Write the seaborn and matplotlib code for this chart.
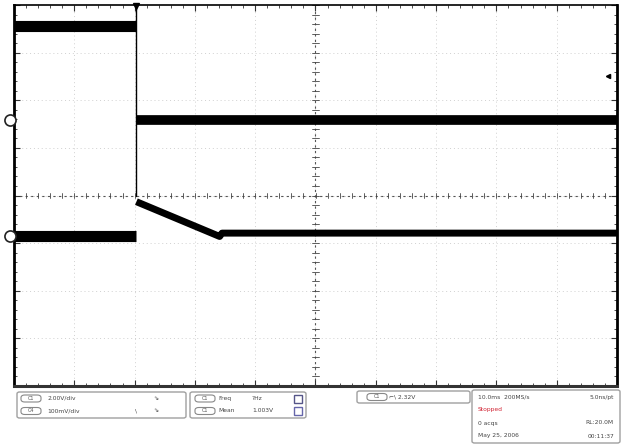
import matplotlib
matplotlib.use("Agg")
import matplotlib.pyplot as plt
from matplotlib.patches import FancyBboxPatch
import numpy as np
import pandas as pd
import seaborn as sns

# ---- data (divisions: x -5..5, y -4..4) ----
ch1_t = [-5.0, -2.97, -2.97, 5.0]
ch1_v = [3.55, 3.55, 1.58, 1.58]
ch4_t = [-5.0, -2.97, -2.97, -1.59, -1.55, 5.0]
ch4_v = [-0.84, -0.84, -0.13, -0.86, -0.79, -0.79]
edge_t = [-2.97, -2.97]
edge_v = [0.0, 4.0]
ch_markers = [1.58, -0.84]
trig_level = 2.50

ch_labels = ["C1", "C4"]
scale_labels = ["2.00V/div", "100mV/div"]
meas_names = ["Freq", "Mean"]
meas_values = ["?Hz", "1.003V"]
trig_text = "2.32V"
status_lines = [("10.0ms  200MS/s", "5.0ns/pt"), ("Stopped", ""), ("0 acqs", "RL:20.0M"),
                ("May 25, 2006", "00:11:37")]

sns.set_style("white")
fig = plt.figure(figsize=(6.25, 4.45), dpi=100)
W, H = 625, 445
ax = fig.add_axes([14 / W, (H - 386) / H, 603 / W, 381 / H])
ax.set_xlim(-5, 5)
ax.set_ylim(-4, 4)

# grid
for gx in np.arange(-4, 5):
    ax.axvline(gx, color="#d0d0d0", lw=0.7, ls=(0, (1, 3)), zorder=0)
for gy in np.arange(-3, 4):
    ax.axhline(gy, color="#d0d0d0", lw=0.7, ls=(0, (1, 3)), zorder=0)
ax.axvline(0, color="#555555", lw=0.8, ls=(0, (2, 3)), zorder=0)
ax.axhline(0, color="#555555", lw=0.8, ls=(0, (2, 3)), zorder=0)
for m in np.arange(-5, 5.01, 0.2):
    ax.plot([m, m], [-0.05, 0.05], color="#444444", lw=0.6, zorder=0)
for m in np.arange(-4, 4.01, 0.2):
    ax.plot([-0.05, 0.05], [m, m], color="#444444", lw=0.6, zorder=0)

ax.set_xticks(np.arange(-5, 5.01, 1))
ax.set_yticks(np.arange(-4, 4.01, 1))
ax.set_xticks(np.arange(-5, 5.01, 0.2), minor=True)
ax.set_yticks(np.arange(-4, 4.01, 0.2), minor=True)
ax.tick_params(which="both", direction="in", top=True, right=True, bottom=True, left=True,
               labelbottom=False, labelleft=False, color="#333333")
ax.tick_params(which="major", length=4, width=0.8)
ax.tick_params(which="minor", length=2.5, width=0.6)
for s in ax.spines.values():
    s.set_color("black")
ax.spines["left"].set_linewidth(2.0)
ax.spines["right"].set_linewidth(2.0)
ax.spines["top"].set_linewidth(1.2)
ax.spines["bottom"].set_linewidth(2.2)
ax.spines["bottom"].set_color("#333333")

# traces
df1 = pd.DataFrame({"t": ch1_t, "v": ch1_v})
df4 = pd.DataFrame({"t": ch4_t, "v": ch4_v})
dfe = pd.DataFrame({"t": edge_t, "v": edge_v})
sns.lineplot(data=dfe, x="t", y="v", ax=ax, sort=False, estimator=None, color="black", lw=1.0)
sns.lineplot(data=df1.iloc[:2], x="t", y="v", ax=ax, sort=False, estimator=None, color="black",
             lw=8.0, solid_capstyle="butt")
sns.lineplot(data=df1.iloc[2:], x="t", y="v", ax=ax, sort=False, estimator=None, color="black",
             lw=7.0, solid_capstyle="butt")
sns.lineplot(data=df4.iloc[:2], x="t", y="v", ax=ax, sort=False, estimator=None, color="black",
             lw=8.0, solid_capstyle="butt")
sns.lineplot(data=df4.iloc[2:], x="t", y="v", ax=ax, sort=False, estimator=None, color="black",
             lw=5.0, solid_capstyle="butt")
ax.set_xlabel("")
ax.set_ylabel("")

# channel markers and trigger markers
for v in ch_markers:
    ax.plot([-5.06], [v], marker="o", ms=8, mfc="white", mec="#222222", mew=1.2, clip_on=False, zorder=5)
ax.plot([-2.97], [3.97], marker="v", ms=4, color="black", clip_on=False, zorder=5)
ax.plot([4.85], [trig_level], marker="<", ms=3, color="black", zorder=5)
ax.set_xlabel("")
ax.set_ylabel("")

# ---- bottom status panel ----
def px(x, y):
    return x / W, 1 - y / H

def box(x0, y0, x1, y1, r=0.004):
    (a, b), (c, d) = px(x0, y1), px(x1, y0)
    fig.patches.append(FancyBboxPatch((a, b), c - a, d - b, boxstyle=f"round,pad=0,rounding_size={r}",
                                      transform=fig.transFigure, fc="white", ec="#a0a0a0", lw=1.0))

def oval(xc, yc, txt):
    a, b = px(xc - 10, yc + 3.5)
    fig.patches.append(FancyBboxPatch((a, b), 20 / W, 7 / H, boxstyle="round,pad=0,rounding_size=0.006",
                                      transform=fig.transFigure, fc="white", ec="#888888", lw=0.8))
    fig.text(*px(xc, yc), txt, fontsize=3.5, ha="center", va="center", color="#555555")

fs = 4.3
tc = "#444444"
box(17, 392, 186, 418)
box(190, 392, 306, 418)
for i, y in enumerate([398.5, 411]):
    oval(31, y, ch_labels[i])
    fig.text(*px(47, y), scale_labels[i], fontsize=fs, ha="left", va="center", color=tc)
    fig.text(*px(156, y), "⇘", fontsize=fs, ha="center", va="center", color=tc)
    oval(205, y, ch_labels[0])
    fig.text(*px(218, y), meas_names[i], fontsize=fs, ha="left", va="center", color=tc)
    fig.text(*px(252, y), meas_values[i], fontsize=fs, ha="left", va="center", color=tc)
fig.text(*px(136, 411), "\\", fontsize=fs, ha="center", va="center", color=tc)
for y, c in [(398.5, "#555588"), (411, "#6666aa")]:
    a, b = px(294, y + 4)
    fig.patches.append(FancyBboxPatch((a, b), 8 / W, 8 / H, boxstyle="square,pad=0",
                                      transform=fig.transFigure, fc="white", ec=c, lw=1.0))

box(357, 391, 470, 403)
oval(377, 397, ch_labels[0])
fig.text(*px(389, 397), "⌐\\ " + trig_text, fontsize=fs, ha="left", va="center", color=tc)

box(472, 390, 620, 443)
for (l, r), y in zip(status_lines, [397, 410, 423, 436]):
    col = "#d02030" if l == "Stopped" else tc
    fig.text(*px(478, y), l, fontsize=fs, ha="left", va="center", color=col)
    if r:
        fig.text(*px(614, y), r, fontsize=fs, ha="right", va="center", color=tc)

fig.savefig("out.png", dpi=100)
